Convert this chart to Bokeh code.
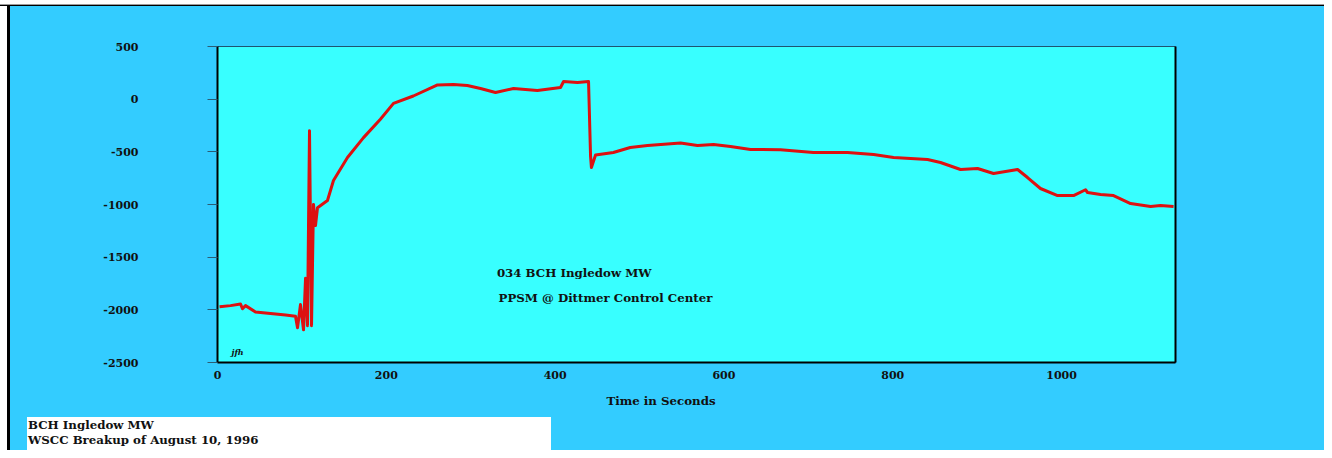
from bokeh.plotting import figure
from bokeh.models import Range1d, FixedTicker, LinearAxis, Label, Div
from bokeh.layouts import column
from bokeh.embed import file_html
from bokeh.resources import INLINE

# ---- data ----
time_s = [2.4, 15.4, 27.3, 29.6, 33.2, 45.0, 62.8, 80.6, 92.4,
          94.8, 98.3, 101.9, 104.3, 106.6, 109.0, 111.4, 113.7, 116.1, 118.5,
          130.3, 137.4, 154.0, 173.0, 193.0, 208.5, 232.0, 260.7, 279.6, 296.0,
          311.6, 329.4, 350.7, 379.0, 406.4, 410.0, 426.5, 439.6, 442.0, 443.0,
          447.9, 469.0, 489.0, 509.5, 548.6, 568.7, 587.7, 607.8, 631.5, 667.0,
          706.0, 746.4, 761.8, 777.3, 801.0, 841.2, 856.6, 880.3, 900.5, 919.4,
          947.9, 959.7, 975.0, 995.3, 1014.2, 1028.4, 1030.8, 1046.2, 1061.6,
          1081.8, 1105.5, 1117.3, 1132.7]
mw = [-1970, -1960, -1945, -1990, -1960, -2020, -2035, -2050, -2060,
      -2170, -1950, -2190, -1700, -2150, -300, -2150, -1000, -1200, -1030,
      -962, -772, -554, -365, -190, -40, 30, 135, 139, 130,
      101, 63, 101, 82, 111, 168, 158, 168, -544, -649,
      -530, -506, -459, -440, -416, -440, -430, -449, -478, -480,
      -506, -506, -516, -525, -554, -573, -601, -668, -658, -706,
      -668, -744, -848, -915, -915, -860, -886, -905, -915,
      -991, -1019, -1010, -1019]

x_ticks = [0, 200, 400, 600, 800, 1000]
x_tick_labels = ["0", "200", "400", "600", "800", "1000"]
y_ticks = [500, 0, -500, -1000, -1500, -2000, -2500]
y_tick_labels = ["500", "0", "-500", "-1000", "-1500", "-2000", "-2500"]

title_lines = ["034 BCH Ingledow MW", "PPSM @ Dittmer Control Center"]
box_lines = ["BCH Ingledow MW", "WSCC Breakup of August 10, 1996"]
x_label = "Time in Seconds"
initials = "jfh"

FONT = "DejaVu Serif"
OUTER = "#33ccff"
INNER = "#38ffff"
TXT = "#111111"

W = 1324
H_FIG = 390
H_DIV = 60

fig_bg = ("linear-gradient(to bottom, #ffffff 0px, #ffffff 4px, #9a9a9a 4px, #9a9a9a 5px, "
          "#000000 5px, #000000 6px, rgba(0,0,0,0) 6px), "
          "linear-gradient(to right, #ffffff 0px, #ffffff 7px, #000000 7px, #000000 10px, "
          + OUTER + " 10px)")
div_bg = ("linear-gradient(to right, #ffffff 0px, #ffffff 7px, #000000 7px, #000000 10px, "
          + OUTER + " 10px)")

p = figure(width=W, height=H_FIG, output_backend="svg", toolbar_location=None,
           x_range=Range1d(0, 1135), y_range=Range1d(-2500, 500),
           min_border_left=217, min_border_right=149, min_border_top=46,
           min_border_bottom=28, margin=0,
           styles={"background": fig_bg})
p.background_fill_color = INNER
p.border_fill_color = None
p.border_fill_alpha = 0
p.outline_line_color = "#1f5470"
p.outline_line_width = 1
p.grid.visible = False

# axes
xa = p.xaxis[0]
xa.ticker = FixedTicker(ticks=x_ticks)
xa.major_label_overrides = {t: s for t, s in zip(x_ticks, x_tick_labels)}
xa.axis_line_color = "black"
xa.axis_line_width = 2
xa.major_tick_out = 0
xa.major_tick_in = 0
xa.minor_tick_line_color = None
xa.major_label_standoff = 8
xa.major_label_text_font = FONT
xa.major_label_text_font_style = "bold"
xa.major_label_text_font_size = "11px"
xa.major_label_text_color = TXT

ya = p.yaxis[0]
ya.ticker = FixedTicker(ticks=y_ticks)
ya.major_label_overrides = {t: s for t, s in zip(y_ticks, y_tick_labels)}
ya.axis_line_color = "black"
ya.axis_line_width = 2
ya.major_tick_out = 10
ya.major_tick_in = 0
ya.major_tick_line_color = "#2b5d75"
ya.minor_tick_line_color = None
ya.major_label_standoff = 69
ya.major_label_text_font = FONT
ya.major_label_text_font_style = "bold"
ya.major_label_text_font_size = "11px"
ya.major_label_text_color = TXT

ra = LinearAxis(ticker=FixedTicker(ticks=[]), axis_line_color="black", axis_line_width=2,
                major_tick_line_color=None, minor_tick_line_color=None,
                major_label_text_font_size="0px")
p.add_layout(ra, "right")

# curve
p.line(time_s, mw, line_color="#dd1111", line_width=3, line_join="round")

# texts inside plot
p.add_layout(Label(x=331, y=-1655, text=title_lines[0], text_font=FONT, text_font_style="bold",
                   text_font_size="11.8px", text_baseline="middle", text_color=TXT))
p.add_layout(Label(x=333, y=-1892, text=title_lines[1], text_font=FONT, text_font_style="bold",
                   text_font_size="11.8px", text_baseline="middle", text_color=TXT))
p.add_layout(Label(x=16.6, y=-2405, text=initials, text_font=FONT, text_font_style="bold italic",
                   text_font_size="8px", text_baseline="middle", text_color=TXT))

# bottom strip: axis title (off-centre as in the original) and white caption box
html = (
    '<div style="position:relative;width:%dpx;height:%dpx;background:%s;'
    'font-family:\'DejaVu Serif\';font-weight:bold;color:%s;overflow:hidden;">'
    '<div style="position:absolute;left:561px;top:3px;width:200px;text-align:center;'
    'font-size:11.8px;line-height:16px;">%s</div>'
    '<div style="position:absolute;left:27px;top:27px;width:524px;height:33px;background:#ffffff;'
    'font-size:11.8px;line-height:15px;padding:1px 0 0 1px;box-sizing:border-box;">%s<br>%s</div>'
    '</div>'
) % (W, H_DIV, div_bg, TXT, x_label, box_lines[0], box_lines[1])
d = Div(text=html, width=W, height=H_DIV, margin=0)

layout = column(p, d, spacing=0, margin=0)
open("out.html", "w").write(file_html(layout, INLINE))
